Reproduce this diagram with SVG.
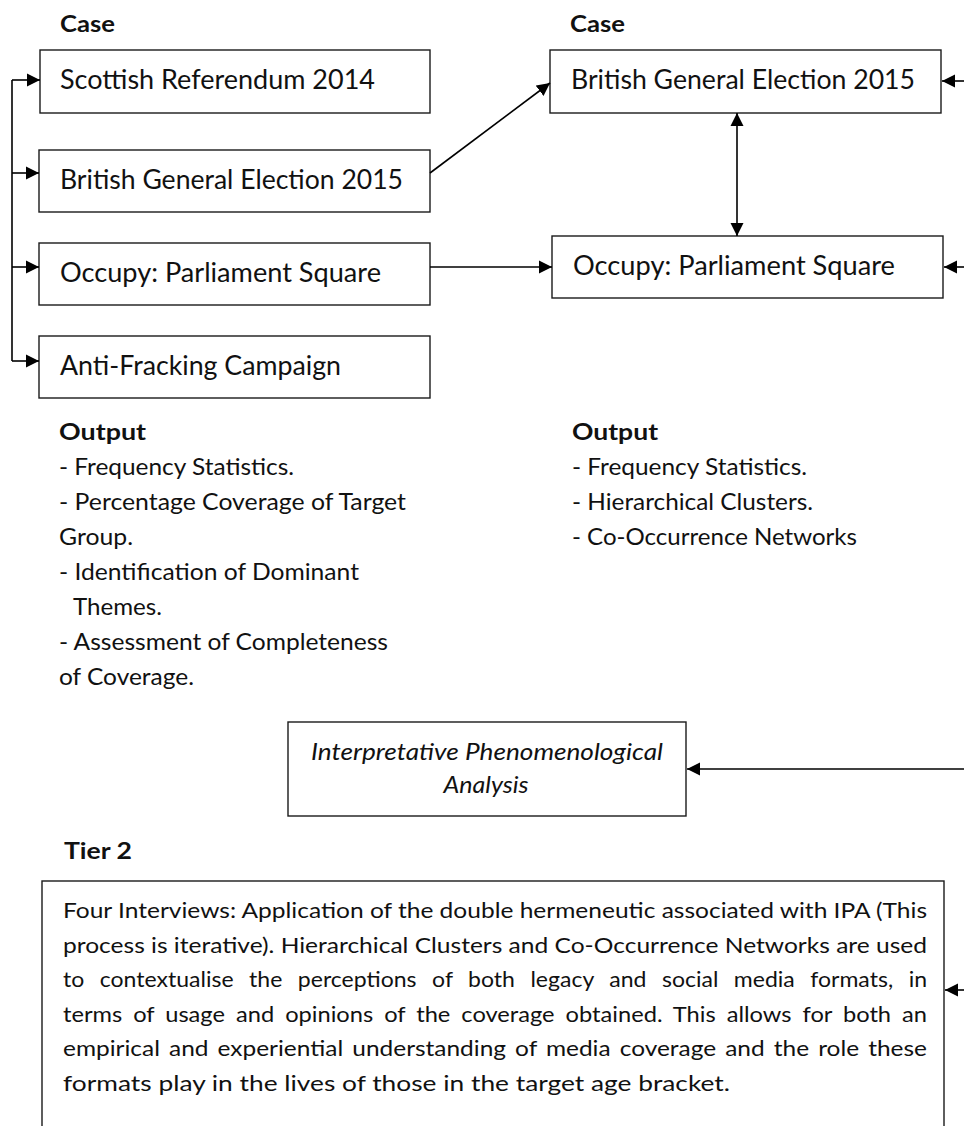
<svg xmlns="http://www.w3.org/2000/svg" width="964" height="1126" viewBox="0 0 964 1126">
  <defs>
    <marker id="ah" markerUnits="userSpaceOnUse" markerWidth="14" markerHeight="14" viewBox="0 0 14 14" refX="13" refY="7" orient="auto-start-reverse">
      <path d="M0,0.5 L13,7 L0,13.5 z" fill="#000"/>
    </marker>
  </defs>
  <style>
    .box{fill:#fff;stroke:#1a1a1a;stroke-width:1.4}
    .t{font-family:Lato,"Liberation Sans",sans-serif;fill:#111}
    .lbl{font-size:26px}
    .h{font-size:22px;font-weight:bold}
    .li{font-size:22.5px}
    .ipa{font-size:23px;font-style:italic}
    .p{font-size:21.5px}
    .c{fill:none;stroke:#000;stroke-width:1.6}
    .a{marker-end:url(#ah)}
  </style>
  <rect width="964" height="1126" fill="#fff"/>

  <!-- section headings -->
  <g id="headings" class="t h">
    <text x="60" y="32" textLength="55" lengthAdjust="spacingAndGlyphs">Case</text>
    <text x="570" y="32" textLength="55" lengthAdjust="spacingAndGlyphs">Case</text>
    <text x="59" y="440" textLength="87" lengthAdjust="spacingAndGlyphs">Output</text>
    <text x="572" y="440" textLength="86" lengthAdjust="spacingAndGlyphs">Output</text>
    <text x="64" y="859" textLength="68" lengthAdjust="spacingAndGlyphs">Tier 2</text>
  </g>

  <!-- left column: tier 1 cases -->
  <g id="scottish-referendum">
    <rect class="box" x="40" y="50" width="390" height="63"/>
    <text class="t lbl" x="60" y="89" textLength="315" lengthAdjust="spacingAndGlyphs">Scottish Referendum 2014</text>
  </g>
  <g id="general-election-left">
    <rect class="box" x="39" y="150" width="391" height="62"/>
    <text class="t lbl" x="60" y="189" textLength="343" lengthAdjust="spacingAndGlyphs">British General Election 2015</text>
  </g>
  <g id="occupy-left">
    <rect class="box" x="39" y="243" width="391" height="62"/>
    <text class="t lbl" x="60" y="282" textLength="321" lengthAdjust="spacingAndGlyphs">Occupy: Parliament Square</text>
  </g>
  <g id="anti-fracking">
    <rect class="box" x="39" y="336" width="391" height="62"/>
    <text class="t lbl" x="60" y="375" textLength="281" lengthAdjust="spacingAndGlyphs">Anti-Fracking Campaign</text>
  </g>

  <!-- right column: selected cases -->
  <g id="general-election-right">
    <rect class="box" x="550" y="50" width="391" height="63"/>
    <text class="t lbl" x="571" y="89" textLength="344" lengthAdjust="spacingAndGlyphs">British General Election 2015</text>
  </g>
  <g id="occupy-right">
    <rect class="box" x="552" y="236" width="391" height="62"/>
    <text class="t lbl" x="573" y="275" textLength="322" lengthAdjust="spacingAndGlyphs">Occupy: Parliament Square</text>
  </g>

  <!-- output lists -->
  <g id="output-left" class="t li">
    <text x="59" y="475" textLength="235" lengthAdjust="spacingAndGlyphs">- Frequency Statistics.</text>
    <text x="59" y="510" textLength="347" lengthAdjust="spacingAndGlyphs">- Percentage Coverage of Target</text>
    <text x="59" y="545" textLength="74" lengthAdjust="spacingAndGlyphs">Group.</text>
    <text x="59" y="580" textLength="300" lengthAdjust="spacingAndGlyphs">- Identification of Dominant</text>
    <text x="73" y="615" textLength="89" lengthAdjust="spacingAndGlyphs">Themes.</text>
    <text x="59" y="650" textLength="329" lengthAdjust="spacingAndGlyphs">- Assessment of Completeness</text>
    <text x="59" y="685" textLength="135" lengthAdjust="spacingAndGlyphs">of Coverage.</text>
  </g>
  <g id="output-right" class="t li">
    <text x="572" y="475" textLength="235" lengthAdjust="spacingAndGlyphs">- Frequency Statistics.</text>
    <text x="572" y="510" textLength="241" lengthAdjust="spacingAndGlyphs">- Hierarchical Clusters.</text>
    <text x="572" y="545" textLength="285" lengthAdjust="spacingAndGlyphs">- Co-Occurrence Networks</text>
  </g>

  <!-- IPA -->
  <g id="ipa">
    <rect class="box" x="288" y="722" width="398" height="94"/>
    <text class="t ipa" x="487" y="760" text-anchor="middle" textLength="352" lengthAdjust="spacingAndGlyphs">Interpretative Phenomenological</text>
    <text class="t ipa" x="486" y="793" text-anchor="middle" textLength="85" lengthAdjust="spacingAndGlyphs">Analysis</text>
  </g>

  <!-- tier 2 interviews -->
  <g id="tier2">
    <rect class="box" x="42" y="881" width="902" height="280"/>
    <g class="t p">
      <text x="63" y="918" textLength="864" lengthAdjust="spacingAndGlyphs">Four Interviews: Application of the double hermeneutic associated with IPA (This</text>
      <text x="63" y="952.5" textLength="864" lengthAdjust="spacingAndGlyphs">process is iterative). Hierarchical Clusters and Co-Occurrence Networks are used</text>
      <text x="63" y="987" word-spacing="9" textLength="864" lengthAdjust="spacingAndGlyphs">to contextualise the perceptions of both legacy and social media formats, in</text>
      <text x="63" y="1021.5" word-spacing="4.5" textLength="864" lengthAdjust="spacingAndGlyphs">terms of usage and opinions of the coverage obtained. This allows for both an</text>
      <text x="63" y="1056" word-spacing="2.5" textLength="864" lengthAdjust="spacingAndGlyphs">empirical and experiential understanding of media coverage and the role these</text>
      <text x="63" y="1090.5" textLength="667" lengthAdjust="spacingAndGlyphs">formats play in the lives of those in the target age bracket.</text>
    </g>
  </g>

  <!-- connectors -->
  <g id="connectors" class="c">
    <line x1="12" y1="80" x2="12" y2="361"/>
    <line class="a" x1="12" y1="80" x2="40" y2="80"/>
    <line class="a" x1="12" y1="173" x2="39" y2="173"/>
    <line class="a" x1="12" y1="267" x2="39" y2="267"/>
    <line class="a" x1="12" y1="361" x2="39" y2="361"/>
    <line class="a" x1="430" y1="173" x2="550" y2="83"/>
    <line class="a" x1="430" y1="267" x2="552" y2="267"/>
    <line x1="737" y1="113" x2="737" y2="236" marker-start="url(#ah)" marker-end="url(#ah)"/>
    <line class="a" x1="964" y1="81" x2="942" y2="81"/>
    <line class="a" x1="964" y1="267" x2="944" y2="267"/>
    <line class="a" x1="964" y1="769" x2="687" y2="769"/>
    <line class="a" x1="964" y1="990" x2="945" y2="990"/>
  </g>
</svg>
